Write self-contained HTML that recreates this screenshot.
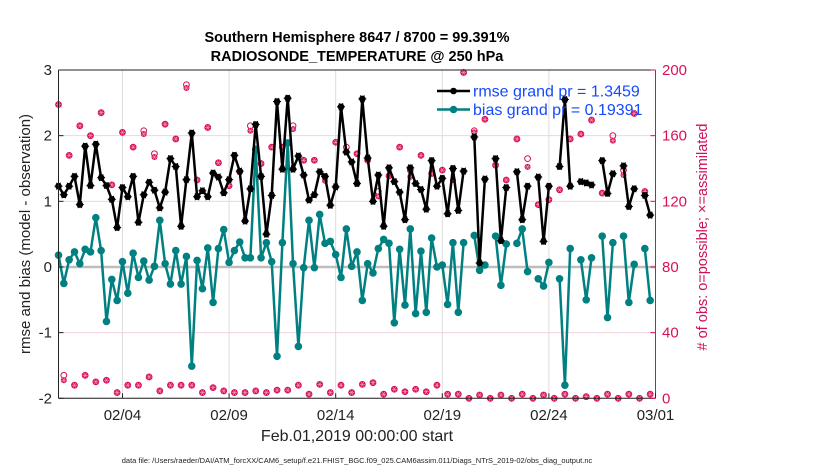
<!DOCTYPE html>
<html><head><meta charset="utf-8">
<style>
html,body{margin:0;padding:0;background:#fff;}
svg{display:block;font-family:"Liberation Sans",Arial,sans-serif;}
</style></head>
<body>
<svg id="chart" width="830" height="470" viewBox="0 0 830 470">
  <g id="grid"></g>
  <g id="obs"></g>
  <g id="series"></g>
  <g id="axes"></g>
  <text x="357" y="42" text-anchor="middle" font-size="14.5" font-weight="bold">Southern Hemisphere 8647 / 8700 = 99.391%</text>
  <text x="357" y="61" text-anchor="middle" font-size="14.5" font-weight="bold">RADIOSONDE_TEMPERATURE @ 250 hPa</text>
  <text transform="translate(30,234) rotate(-90)" text-anchor="middle" font-size="15" fill="#222">rmse and bias (model - observation)</text>
  <text transform="translate(707,237) rotate(-90)" text-anchor="middle" font-size="14.5" fill="#d0105a"># of obs: o=possible; ×=assimilated</text>
  <text x="357" y="441" text-anchor="middle" font-size="16" fill="#222">Feb.01,2019 00:00:00 start</text>
  <text x="357" y="463" text-anchor="middle" font-size="7.5" fill="#222">data file: /Users/raeder/DAI/ATM_forcXX/CAM6_setup/f.e21.FHIST_BGC.f09_025.CAM6assim.011/Diags_NTrS_2019-02/obs_diag_output.nc</text>
  <g id="legend"></g>
</svg>
<script>
const rmse = [1.23,1.10,1.23,1.38,0.95,1.84,1.24,1.87,1.36,1.24,1.03,0.60,1.21,1.07,1.38,0.68,1.10,1.29,1.17,0.90,1.14,1.65,1.53,0.62,1.33,2.04,1.07,1.16,1.07,
1.43,1.37,1.13,1.33,1.70,1.46,0.70,1.19,2.17,1.38,0.50,1.09,2.52,1.49,2.57,1.49,1.69,1.40,1.02,1.10,1.45,1.38,0.94,1.22,2.44,1.75,1.60,1.27,
2.56,1.66,1.00,1.40,0.62,1.51,1.30,1.14,0.72,1.51,1.27,1.18,0.88,1.62,1.23,1.35,0.81,1.50,0.86,1.46,null,1.98,0.06,1.34,null,1.65,0.40,1.21,
null,1.45,0.72,1.23,null,1.37,0.39,1.23,null,1.53,2.55,1.23,null,1.30,1.28,1.25,null,1.62,1.12,1.42,null,1.54,0.92,1.19,null,1.09,0.79];
const bias = [0.18,-0.25,0.11,0.23,0.05,0.27,0.23,0.75,0.25,-0.83,-0.19,-0.51,0.08,-0.40,0.21,-0.16,0.09,-0.20,0.01,0.71,0.05,-0.26,0.25,-0.26,0.16,-1.51,0.10,-0.33,0.29,
-0.54,0.28,0.57,0.07,0.25,0.38,0.14,0.14,1.79,0.14,0.37,0.08,-1.36,0.37,1.89,0.05,-1.21,-0.01,0.71,-0.01,0.80,0.36,0.39,0.19,-0.16,0.58,0.01,0.23,
-0.51,0.05,-0.09,0.28,0.42,0.36,-0.85,0.27,-0.58,0.58,-0.71,0.24,-0.69,0.44,0.00,0.03,-0.57,0.37,-0.69,0.37,null,0.48,-0.05,0.03,null,0.47,-0.28,0.35,
null,0.36,0.58,-0.07,null,-0.18,-0.29,0.07,null,-0.18,-1.80,0.28,null,0.11,-0.50,0.14,null,0.47,-0.77,0.37,null,0.47,-0.54,0.04,null,0.28,-0.51];
const assimilated = [179,11,148,8,166,14,160,10,174,11,130,3.5,162,8,153,8,161,13,147,4.5,167,8,158,8,189,8,133,3.5,165,
6.5,143.5,4.5,129.5,3.5,138,3.5,163,4.5,143,3.5,153,5,153,5,164,8,145,2.5,145,8.5,132.5,3.5,156,8,150,3.5,149,
8.5,145,9.5,123,2.5,135.5,5.5,153,4,135,5.5,148,4,137,8,139,2.5,133,2.5,198.5,0,162,2,170,0,142,2,133,
0,158,2.5,141,0,118,2,121,0,127,2.5,158,0,161,1,169.5,0,125,2.5,157,0,136,2.5,173.5,0,126,2.5];
const possible = [179,14,148,8,166,14,160,10,174,11,130,3.5,162,8,153,8,163,13,149,4.5,167,8,158,8,191,8,133,3.5,165,
6.5,143.5,4.5,129.5,3.5,138,3.5,166,4.5,143,3.5,153,5,153,5,166,8,145,2.5,145,8.5,135,3.5,156,8,153,3.5,149,
8.5,145,9.5,126,2.5,135.5,5.5,153,4,139,5.5,148,4,137,8,139,2.5,140,2.5,198.5,0,163,2,170,0,142,2,133,
0,158,2.5,146,0,118,2,121,0,127,2.5,158,0,161,1,169.5,0,125,2.5,160,0,139,2.5,173.5,0,126,2.5];
const stepDays = 0.25;
const xTickDays = [3,8,13,18,23,28];
const xTickLabels = ["02/04","02/09","02/14","02/19","02/24","03/01"];
const yLeftTicks = [-2,-1,0,1,2,3];
const yRightTicks = [0,40,80,120,160,200];
const legendLabels = ["rmse grand pr = 1.3459","bias grand pr = 0.19391"];

const X0=58.5, X1=655.5, Y0=398.3, Y1=70;
const NS="http://www.w3.org/2000/svg";
function xs(d){return X0+d*(X1-X0)/28;}
function yl(v){return Y0-(v+2)/5*(Y0-Y1);}
function yr(c){return Y0-c/200*(Y0-Y1);}
function mk(tag,attrs,parent){const e=document.createElementNS(NS,tag);for(const k in attrs)e.setAttribute(k,attrs[k]);parent.appendChild(e);return e;}

const grid=document.getElementById('grid');
xTickDays.forEach(d=>{ if(d<28){const l=mk('line',{x1:xs(d),x2:xs(d),y1:Y1,y2:Y0,stroke:'#dcdcdc','stroke-width':1},grid);

}});
yRightTicks.forEach(c=>{const l=mk('line',{x1:X0,x2:X1,y1:yr(c),y2:yr(c),stroke:'#f2d3df','stroke-width':1},grid);

});
const zl=mk('line',{x1:X0,x2:X1,y1:yl(0),y2:yl(0),stroke:'#bdbdbd','stroke-width':2.5},grid);



const obsG=document.getElementById('obs');
const pink='#d8105a';
possible.forEach((c,i)=>{const x=xs(i*stepDays),y=yr(c);
const m=mk('circle',{cx:x,cy:y,r:2.9,fill:'none',stroke:pink,'stroke-width':1},obsG);

});
assimilated.forEach((c,i)=>{const x=xs(i*stepDays),y=yr(c);
const g=mk('g',{},obsG);


mk('circle',{cx:x,cy:y,r:3,fill:pink},g);
[0,60,120].forEach(a=>{const r=a*Math.PI/180,dx=2.6*Math.cos(r),dy=2.6*Math.sin(r);
mk('line',{x1:x-dx,y1:y-dy,x2:x+dx,y2:y+dy,stroke:'#f4a0c0','stroke-width':0.6},g);});});

const ser=document.getElementById('series');
function drawSeries(vals,color,name,star){
  let d='',pen=false;
  vals.forEach((v,i)=>{if(v===null){pen=false;return;}const x=xs(i*stepDays),y=yl(v);d+=(pen?'L':'M')+x.toFixed(1)+' '+y.toFixed(1);pen=true;});
  const p=mk('path',{d:d,fill:'none',stroke:color,'stroke-width':2.5,'stroke-linejoin':'round'},ser);
  
  
  vals.forEach((v,i)=>{if(v===null)return;const x=xs(i*stepDays),y=yl(v);
    const c=mk('circle',{cx:x,cy:y,r:star?3.3:3.8,fill:color},ser);
    
    
    if(star){[0,60,120].forEach(a=>{const r=a*Math.PI/180,dx=4*Math.cos(r),dy=4*Math.sin(r);
      mk('line',{x1:x-dx,y1:y-dy,x2:x+dx,y2:y+dy,stroke:color,'stroke-width':1},ser);});}
  });
}
drawSeries(bias,'#008080','bias',false);
drawSeries(rmse,'#000','rmse',true);

const ax=document.getElementById('axes');
mk('line',{x1:X0,x2:X1,y1:Y1,y2:Y1,stroke:'#222','stroke-width':1},ax);
mk('line',{x1:X0,x2:X1,y1:Y0,y2:Y0,stroke:'#222','stroke-width':1},ax);
mk('line',{x1:X0,x2:X0,y1:Y1,y2:Y0,stroke:'#222','stroke-width':1},ax);
mk('line',{x1:X1,x2:X1,y1:Y1,y2:Y0,stroke:pink,'stroke-width':1},ax);
xTickDays.forEach((d,i)=>{
  mk('line',{x1:xs(d),x2:xs(d),y1:Y0,y2:Y0-5,stroke:'#222'},ax);
  const t=mk('text',{x:xs(d),y:420,'text-anchor':'middle','font-size':15,fill:'#222'},ax);
  t.textContent=xTickLabels[i];
  
  
});
yLeftTicks.forEach(v=>{
  mk('line',{x1:X0,x2:X0+5,y1:yl(v),y2:yl(v),stroke:'#222'},ax);
  const t=mk('text',{x:52,y:yl(v)+5,'text-anchor':'end','font-size':15,fill:'#222'},ax);
  t.textContent=String(v);
  
  
});
yRightTicks.forEach(c=>{
  mk('line',{x1:X1,x2:X1-5,y1:yr(c),y2:yr(c),stroke:pink},ax);
  const t=mk('text',{x:662,y:yr(c)+5,'text-anchor':'start','font-size':15,fill:pink},ax);
  t.textContent=String(c);
  
  
});

const lg=document.getElementById('legend');
[['#000',true],['#008080',false]].forEach((s,i)=>{
  const y=91+i*18.5;
  const g=mk('g',{},lg);
  
  
  mk('line',{x1:437,x2:470,y1:y,y2:y,stroke:s[0],'stroke-width':2.5},g);
  mk('circle',{cx:453.5,cy:y,r:s[1]?3.3:3.8,fill:s[0]},g);
  const t=mk('text',{x:473,y:y+5.5,'font-size':16,fill:'#1449ff'},g);
  t.textContent=legendLabels[i];
});
</script>
</body></html>
